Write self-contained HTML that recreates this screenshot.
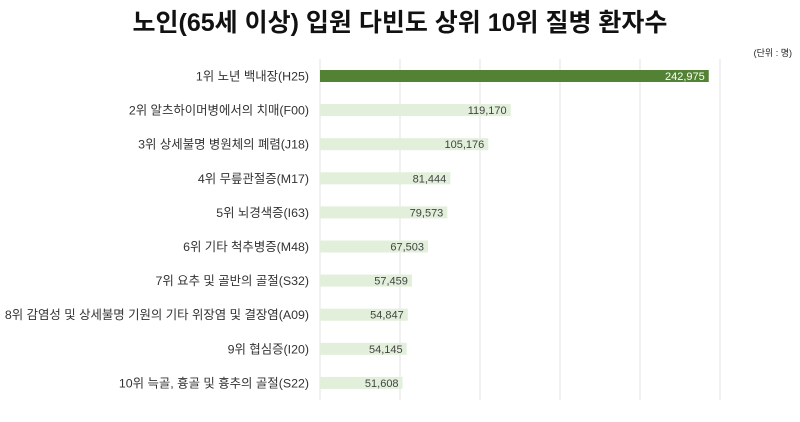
<!DOCTYPE html>
<html><head><meta charset="utf-8"><style>
body{margin:0;width:800px;height:417px;background:#fff;font-family:"Liberation Sans","Noto Sans CJK KR",sans-serif;overflow:hidden}
</style></head><body>
<svg width="800" height="417" id="c">
<text x="400" y="31" text-anchor="middle" font-size="25" font-weight="bold" fill="#111">노인(65세 이상) 입원 다빈도 상위 10위 질병 환자수</text>
<text x="792" y="56" text-anchor="end" font-size="9" fill="#222">(단위 : 명)</text>
<g id="grid"></g><g id="bars"></g>
</svg>
<script>
const categories=["1위 노년 백내장(H25)","2위 알츠하이머병에서의 치매(F00)","3위 상세불명 병원체의 폐렴(J18)","4위 무릎관절증(M17)","5위 뇌경색증(I63)","6위 기타 척추병증(M48)","7위 요추 및 골반의 골절(S32)","8위 감염성 및 상세불명 기원의 기타 위장염 및 결장염(A09)","9위 협심증(I20)","10위 늑골, 흉골 및 흉추의 골절(S22)"];
const values=[242975,119170,105176,81444,79573,67503,57459,54847,54145,51608];
const ticks=[0,50000,100000,150000,200000,250000];
const NS="http://www.w3.org/2000/svg";
const x=v=>320+v*0.0016;
const y=i=>76+i*34.1;
const g=document.getElementById('grid'),b=document.getElementById('bars');
ticks.forEach(t=>{const l=document.createElementNS(NS,'line');
l.setAttribute('x1',x(t));l.setAttribute('x2',x(t));l.setAttribute('y1',59);l.setAttribute('y2',400);
l.setAttribute('stroke','#e3e3e3');l.setAttribute('stroke-width',1);


g.appendChild(l);});
values.forEach((v,i)=>{
const r=document.createElementNS(NS,'rect');
r.setAttribute('x',x(0));r.setAttribute('y',y(i)-6);r.setAttribute('width',x(v)-x(0));r.setAttribute('height',12);
r.setAttribute('fill',i==0?'#548235':'#e2efda');


b.appendChild(r);
const t=document.createElementNS(NS,'text');
t.setAttribute('x',x(v)-4);t.setAttribute('y',y(i)+4);t.setAttribute('text-anchor','end');t.setAttribute('font-size',11);
t.setAttribute('fill',i==0?'#fff':'#444');t.textContent=v.toLocaleString('en-US');


b.appendChild(t);
const c=document.createElementNS(NS,'text');
c.setAttribute('x',309);c.setAttribute('y',y(i)+4.5);c.setAttribute('text-anchor','end');c.setAttribute('font-size',12.4);
c.setAttribute('fill','#333');c.textContent=categories[i];


b.appendChild(c);
});
</script>
</body></html>
